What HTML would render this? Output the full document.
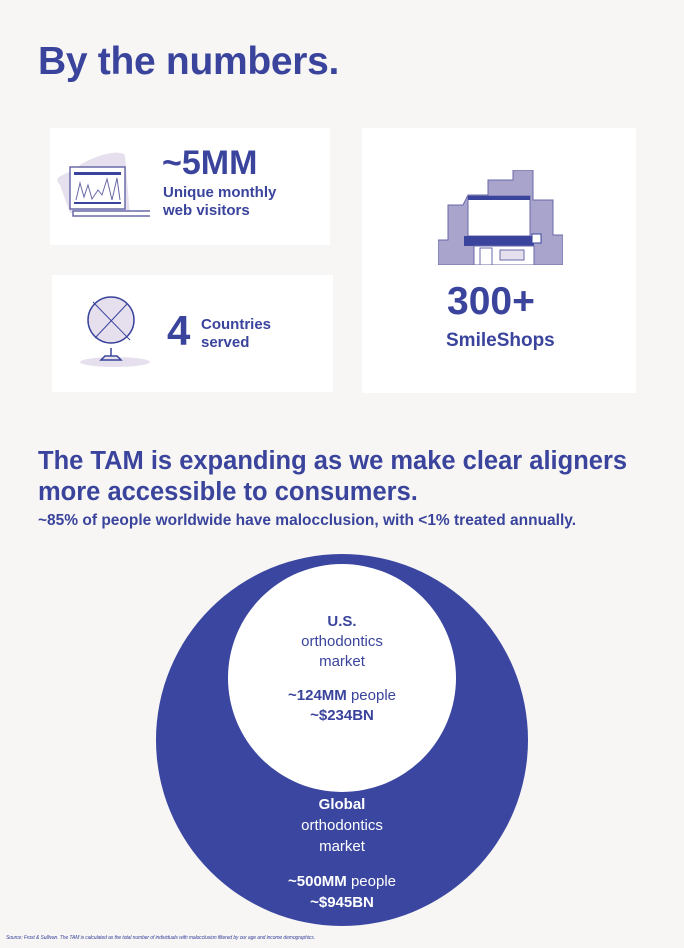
<!DOCTYPE html>
<html><head><meta charset="utf-8"><style>
body{margin:0;width:684px;height:948px;background:#f7f6f4;font-family:"Liberation Sans",sans-serif;color:#3a449c;position:relative;overflow:hidden}
.a{position:absolute;white-space:nowrap}
.card{position:absolute;background:#fff}
b{font-weight:bold}
</style></head><body>
<div class="a" style="left:38px;top:40px;font-size:39px;font-weight:bold;letter-spacing:-0.3px">By the numbers.</div>

<div class="card" style="left:50px;top:128px;width:280px;height:117px"></div>
<div class="card" style="left:52px;top:275px;width:281px;height:117px"></div>
<div class="card" style="left:362px;top:128px;width:274px;height:265px"></div>

<svg class="a" style="left:50px;top:145px" width="100" height="80">
<path d="M10 40 C0 30 20 30 30 20 C50 8 70 5 75 10 L80 70 L20 68 Z" fill="#e6e0ee"/>
<rect x="20" y="22" width="55" height="42" fill="#fff" stroke="#6a6aa8" stroke-width="1.5"/>
<rect x="24" y="27" width="47" height="3" fill="#3a449c"/>
<rect x="24" y="57" width="47" height="2" fill="#3a449c"/>
<path d="M26 55 L30 38 L34 52 L38 40 L42 54 L48 45 L52 50 L57 34 L62 55 L67 33 L70 55" fill="none" stroke="#6a6aa8" stroke-width="1"/>
<rect x="23" y="66" width="80" height="5" fill="#fff" stroke="#6a6aa8" stroke-width="1.5"/>
</svg>
<div class="a" style="left:162px;top:144px;font-size:34px;font-weight:bold">~5MM</div>
<div class="a" style="left:163px;top:184px;font-size:15px;font-weight:bold;line-height:18px">Unique monthly<br>web visitors</div>

<svg class="a" style="left:75px;top:290px" width="80" height="80">
<ellipse cx="40" cy="72" rx="35" ry="5" fill="#e6e0ee"/>
<circle cx="36" cy="30" r="23" fill="#e6e0ee" stroke="#3a449c" stroke-width="1.5"/>
<path d="M18 12 L55 50 M52 14 L20 48" stroke="#3a449c" stroke-width="1"/>
<path d="M36 58 L36 66 M26 70 L46 70 L42 66 L30 66 Z" stroke="#3a449c" fill="none" stroke-width="1.5"/>
</svg>
<div class="a" style="left:167px;top:307px;font-size:42px;font-weight:bold">4</div>
<div class="a" style="left:201px;top:316px;font-size:15px;font-weight:bold;line-height:18px">Countries<br>served</div>

<svg class="a" style="left:438px;top:170px" width="125" height="95">
<path d="M0 95 L0 70 L10 70 L10 35 L25 35 L30 25 L50 25 L50 10 L75 10 L75 0 L95 0 L95 30 L115 30 L115 65 L125 65 L125 95 Z" fill="#a8a4cc" stroke="#6a6aa8"/>
<rect x="30" y="26" width="62" height="40" fill="#fff" stroke="#6a6aa8"/>
<rect x="30" y="26" width="62" height="4" fill="#3a449c"/>
<rect x="26" y="66" width="70" height="10" fill="#3a449c"/>
<rect x="36" y="76" width="60" height="19" fill="#fff" stroke="#6a6aa8"/>
<rect x="42" y="78" width="12" height="17" fill="#fff" stroke="#6a6aa8"/>
<rect x="62" y="80" width="24" height="10" fill="#e6e0ee" stroke="#6a6aa8"/>
<rect x="94" y="64" width="9" height="9" fill="#fff" stroke="#3a449c"/>
</svg>
<div class="a" style="left:447px;top:280px;font-size:39px;font-weight:bold">300+</div>
<div class="a" style="left:446px;top:330px;font-size:19px;font-weight:bold">SmileShops</div>

<div class="a" style="left:38px;top:446px;font-size:25.5px;font-weight:bold;line-height:31px">The TAM is expanding as we make clear aligners<br>more accessible to consumers.</div>
<div class="a" style="left:38px;top:512px;font-size:15.5px;font-weight:bold">~85% of people worldwide have malocclusion, with &lt;1% treated annually.</div>

<svg class="a" style="left:0;top:0" width="684" height="948">
<circle cx="342" cy="740" r="186" fill="#3a46a0"/>
<circle cx="342" cy="678" r="114" fill="#fff"/>
</svg>
<div class="a" style="left:242px;width:200px;top:612px;text-align:center;font-size:15px;line-height:20px">
<b>U.S.</b><br>orthodontics<br>market<br><div style="height:14px"></div><b>~124MM</b> people<br><b>~$234BN</b></div>
<div class="a" style="left:242px;width:200px;top:794px;text-align:center;font-size:15px;line-height:21px;color:#fff">
<b>Global</b><br>orthodontics<br>market<br><div style="height:14px"></div><b>~500MM</b> people<br><b>~$945BN</b></div>
<div class="a" style="left:6px;top:935px;font-size:5px;font-style:italic;color:#3a449c;letter-spacing:-0.1px">Source: Frost &amp; Sullivan. The TAM is calculated as the total number of individuals with malocclusion filtered by our age and income demographics.</div>
</body></html>
